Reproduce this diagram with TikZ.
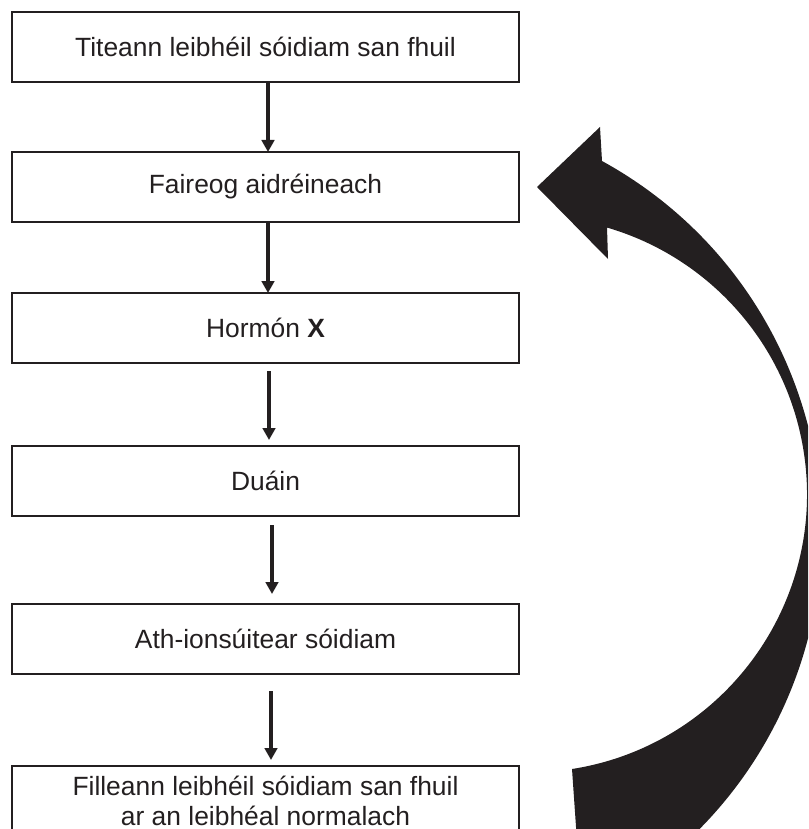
\documentclass[tikz,border=0pt]{standalone}
\usepackage{fontspec}
\setmainfont{Liberation Sans}
\usetikzlibrary{arrows.meta}
\definecolor{ink}{HTML}{231F20}
\begin{document}
\begin{tikzpicture}[x=1pt,y=-1pt,
  stepbox/.style={draw=ink, line width=2.5pt, fill=white, minimum width=507pt, minimum height=70pt,
    outer sep=0pt, inner sep=2pt, align=center, text=ink,
    font=\fontsize{26.4}{30}\selectfont},
  flow/.style={draw=ink, line width=4.5pt, -{Triangle[width=12.5pt,length=12pt]}},
  bigarrow/.style={fill=ink, draw=none}]
\useasboundingbox (0,0) rectangle (808,829);
\begin{scope}
\clip (0,0) rectangle (808,829);
% big feedback arrow
\fill[bigarrow] (572,769) arc[start angle=81.1, end angle=-73.7, radius=278]
  -- (608,259) -- (537,187) -- (600,127) -- (602,161)
  arc[start angle=-61.25, end angle=64.3, radius=423] -- cycle;
% boxes
\node[stepbox] (b1) at (265.5,47) {Titeann leibhéil sóidiam san fhuil};
\node[stepbox] (b2) at (265.5,187) {Faireog aidréineach};
\node[stepbox] (b3) at (265.5,328) {Hormón \textbf{X}};
\node[stepbox] (b4) at (265.5,481) {Duáin};
\node[stepbox] (b5) at (265.5,639) {Ath-ionsúitear sóidiam};
\node[stepbox] (b6) at (265.5,801) {Filleann leibhéil sóidiam san fhuil\\ar an leibhéal normalach};
% connectors
\draw[flow] ([xshift=2.5pt]b1.south) -- ([xshift=2.5pt]b2.north);
\draw[flow] ([xshift=2.5pt]b2.south) -- ([xshift=2.5pt]b3.north);
\draw[flow, shorten <=8pt, shorten >=6pt] ([xshift=3.5pt]b3.south) -- ([xshift=3.5pt]b4.north);
\draw[flow, shorten <=9pt, shorten >=10pt] ([xshift=6.5pt]b4.south) -- ([xshift=6.5pt]b5.north);
\draw[flow, shorten <=17pt, shorten >=6pt] ([xshift=5.5pt]b5.south) -- ([xshift=5.5pt]b6.north);
\end{scope}
\end{tikzpicture}
\end{document}
